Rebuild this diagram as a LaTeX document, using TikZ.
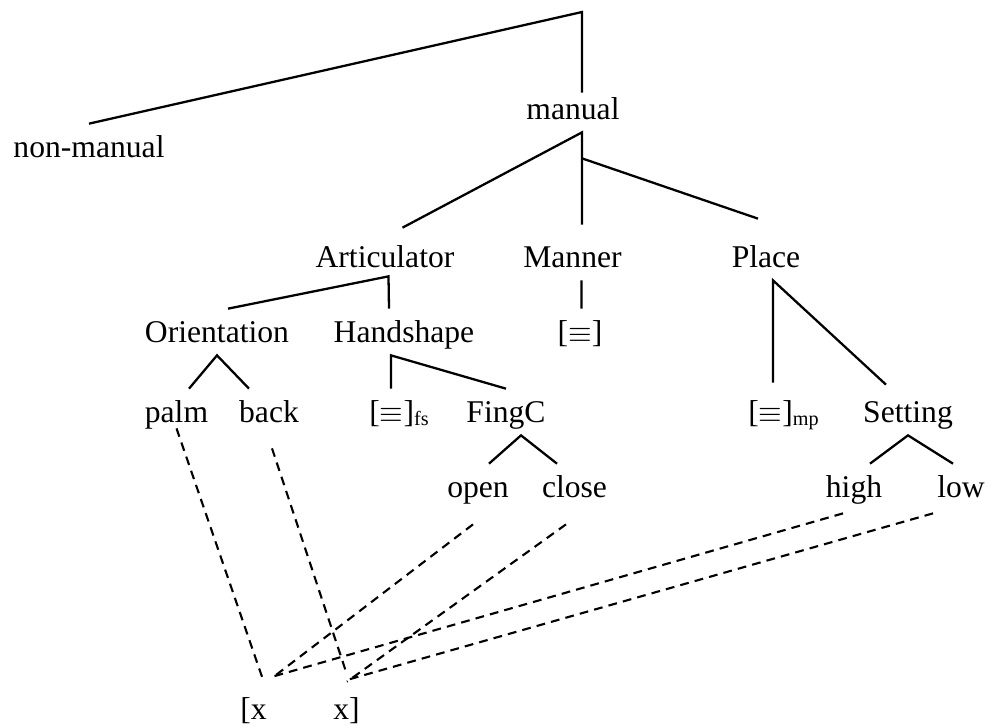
\documentclass[tikz,border=0pt]{standalone}
\usepackage{fontspec}
\setmainfont{Liberation Serif}
\usepackage{tikz}
\newcommand{\lsub}[1]{\raisebox{-0.12em}{\fontsize{11.5}{12}\selectfont #1}}
\tikzset{
  lbl/.style={font=\fontsize{18}{21}\selectfont,anchor=base,inner xsep=0pt,inner ysep=0.22cm,
    text height=0.44cm,text depth=0.04cm},
  branch/.style={line width=1.3pt},
  assoc/.style={line width=1.2pt,dash pattern=on 5pt off 3.5pt},
}
\begin{document}
\begin{tikzpicture}
  \useasboundingbox (0,0) rectangle (19.8,-14.48);
  \coordinate (root) at (11.64,-0.24);
  % nodes
  \node[lbl] (nonman)  at (1.78,-3.14)  {non-manual};
  \node[lbl] (manual)  at (11.46,-2.38) {manual};
  \node[lbl] (artic)   at (7.70,-5.34)  {Articulator};
  \node[lbl] (manner)  at (11.45,-5.34) {Manner};
  \node[lbl] (place)   at (15.32,-5.34) {Place};
  \node[lbl] (orient)  at (4.34,-6.84)  {Orientation};
  \node[lbl] (hand)    at (8.08,-6.84)  {Handshape};
  \node[lbl] (meq)     at (11.60,-6.84) {[$\equiv$]};
  \node[lbl] (palm)    at (3.53,-8.44)  {palm};
  \node[lbl] (back)    at (5.38,-8.44)  {back};
  \node[lbl] (fseq)    at (7.98,-8.44)  {[$\equiv$]\lsub{fs}};
  \node[lbl] (fingc)   at (10.12,-8.44) {FingC};
  \node[lbl] (mpeq)    at (15.67,-8.44) {[$\equiv$]\lsub{mp}};
  \node[lbl] (setting) at (18.16,-8.44) {Setting};
  \node[lbl] (open)    at (9.56,-9.94)  {open};
  \node[lbl] (close)   at (11.49,-9.94) {close};
  \node[lbl] (high)    at (17.08,-9.94) {high};
  \node[lbl] (low)     at (19.22,-9.94) {low};
  \node[lbl] (xl)      at (5.07,-14.38) {[x};
  \node[lbl] (xr)      at (6.93,-14.38) {x]};
  % tree
  \draw[branch] (nonman.north) -- (root) -- ([xshift=0.18cm,yshift=-0.14cm]manual.north);
  \draw[branch] ([xshift=0.35cm,yshift=0.12cm]artic.north) -- ([xshift=0.18cm]manual.south)
    -- ([xshift=0.19cm,yshift=0.18cm]manner.north);
  \draw[branch] ([xshift=0.18cm,yshift=-0.52cm]manual.south) -- ([xshift=-0.16cm,yshift=0.3cm]place.north);
  \draw[branch] ([xshift=0.22cm]orient.north) -- ([xshift=0.07cm,yshift=0.08cm]artic.south)
    -- ([xshift=-0.3cm]hand.north);
  \draw[branch] ([xshift=0.25cm]palm.north) -- (orient.south) -- ([xshift=-0.4cm]back.north);
  \draw[branch] ([xshift=-0.16cm]fseq.north) -- ([xshift=-0.26cm]hand.south) -- (fingc.north);
  \draw[branch] ([xshift=0.18cm]manner.south) -- ([xshift=0.03cm]meq.north);
  \draw[branch] ([xshift=-0.21cm,yshift=0.12cm]mpeq.north) -- ([xshift=0.14cm]place.south)
    -- ([xshift=-0.44cm,yshift=0.08cm]setting.north);
  \draw[branch] ([xshift=0.22cm]open.north) -- ([xshift=0.3cm]fingc.south) -- ([xshift=-0.35cm]close.north);
  \draw[branch] ([xshift=0.32cm]high.north) -- (setting.south) -- ([xshift=-0.16cm]low.north);
  % association lines
  \draw[assoc] ([yshift=0.14cm]palm.south) -- ([xshift=0.19cm,yshift=0.12cm]xl.north);
  \draw[assoc] ([xshift=-0.1cm,yshift=-0.28cm]open.south) -- ([xshift=0.38cm,yshift=0.16cm]xl.north);
  \draw[assoc] ([xshift=-0.22cm,yshift=-0.06cm]high.south) -- ([xshift=0.38cm,yshift=0.18cm]xl.north);
  \draw[assoc] ([xshift=0.06cm,yshift=-0.26cm]back.south) -- ([xshift=0.01cm,yshift=0.22cm]xr.north);
  \draw[assoc] ([xshift=-0.17cm,yshift=-0.28cm]close.south) -- ([xshift=0.01cm,yshift=0.08cm]xr.north);
  \draw[assoc] ([xshift=-0.56cm,yshift=-0.06cm]low.south) -- ([xshift=0.03cm,yshift=0.12cm]xr.north);
\end{tikzpicture}
\end{document}
